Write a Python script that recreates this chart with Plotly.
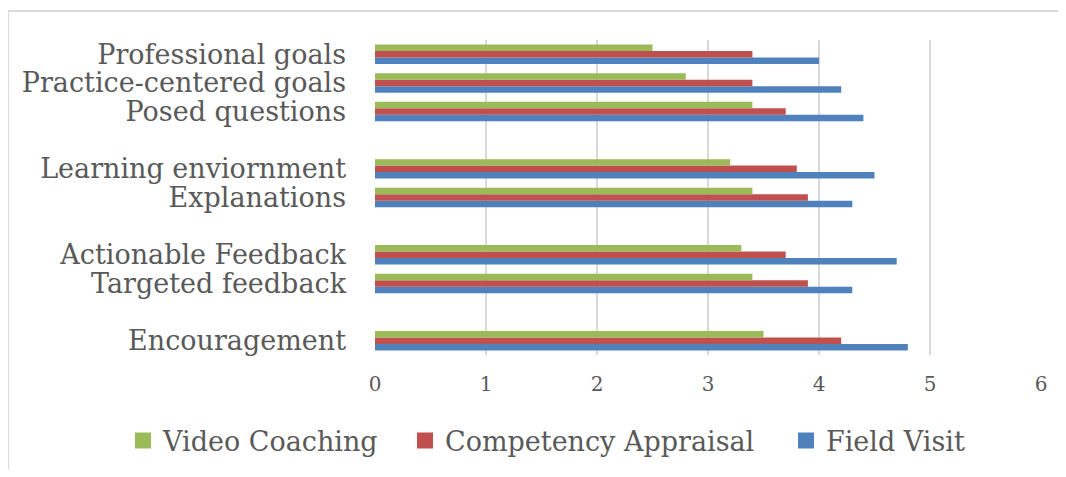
import plotly.graph_objects as go

categories = ["Encouragement", "Targeted feedback", "Actionable Feedback",
              "Explanations", "Learning enviornment",
              "Posed questions", "Practice-centered goals", "Professional goals"]
axis_order = ["Encouragement", " ", "Targeted feedback", "Actionable Feedback", "  ",
              "Explanations", "Learning enviornment", "   ",
              "Posed questions", "Practice-centered goals", "Professional goals"]

video_coaching = [3.5, 3.4, 3.3, 3.4, 3.2, 3.4, 2.8, 2.5]
competency_appraisal = [4.2, 3.9, 3.7, 3.9, 3.8, 3.7, 3.4, 3.4]
field_visit = [4.8, 4.3, 4.7, 4.3, 4.5, 4.4, 4.2, 4.0]

x_ticks = [0, 1, 2, 3, 4, 5, 6]

FONT = "DejaVu Serif"
GRAY = "#595959"
C_BLUE, C_RED, C_GREEN = "#4F81BD", "#C0504D", "#9BBB59"

OFF = 8  # body margin of the html page
W, H = 1066 - 2 * OFF, 477 - 2 * OFF
L = 375 - OFF
T = 40 - OFF
R = W - (1041 - OFF)
B = H - (355 - OFF)
pw, ph = W - L - R, H - T - B


def px(xp):
    return (xp - OFF - L) / pw


def py(yp):
    return (H - B - (yp - OFF)) / ph


series = [("Field Visit", field_visit, C_BLUE, "legend3", 826),
          ("Competency Appraisal", competency_appraisal, C_RED, "legend2", 445),
          ("Video Coaching", video_coaching, C_GREEN, "legend", 163)]

fig = go.Figure()
for name, vals, col, leg, _ in series:
    fig.add_trace(go.Bar(y=categories, x=vals, name=name, orientation="h",
                         marker=dict(color=col, line=dict(width=0)), showlegend=False))
# legend entries with larger square swatches, one legend box per entry
for name, vals, col, leg, _ in series:
    fig.add_trace(go.Scatter(x=[None], y=[None], mode="markers", name=name, legend=leg,
                             marker=dict(symbol="square", size=17, color=col)))


def legend_box(text_x):
    return dict(orientation="h", x=px(text_x - 40), xanchor="left",
                y=py(441), yanchor="middle", bgcolor="rgba(0,0,0,0)",
                font=dict(family=FONT, size=27, color=GRAY), itemwidth=30)


bx, by = px(8), py(11)

fig.update_layout(
    width=W, height=H,
    margin=dict(l=L, r=R, t=T, b=B, autoexpand=False),
    paper_bgcolor="white", plot_bgcolor="white",
    barmode="group", bargap=0.32, bargroupgap=0,
    font=dict(family=FONT, color=GRAY),
    showlegend=True,
    legend=legend_box(series[2][4]),
    legend2=legend_box(series[1][4]),
    legend3=legend_box(series[0][4]),
    xaxis=dict(range=[0, 6], tickmode="array", tickvals=x_ticks,
               ticktext=[str(v) for v in x_ticks],
               showgrid=True, gridcolor="#d9d9d9", gridwidth=1.5, zeroline=False,
               showline=False, ticks="", ticklabelstandoff=15,
               tickfont=dict(family=FONT, size=20, color=GRAY), fixedrange=True),
    yaxis=dict(type="category", categoryorder="array", categoryarray=axis_order,
               tickmode="array", tickvals=axis_order, ticktext=axis_order,
               range=[-0.5, len(axis_order) - 0.5],
               showgrid=False, zeroline=False, showline=False, ticks="",
               ticklabelstandoff=28,
               tickfont=dict(family=FONT, size=27, color=GRAY), fixedrange=True),
    shapes=[
        dict(type="line", xref="paper", yref="paper", x0=bx, x1=bx, y0=-0.6, y1=by,
             line=dict(color="#d9d9d9", width=2)),
        dict(type="line", xref="paper", yref="paper", x0=bx, x1=1.2, y0=by, y1=by,
             line=dict(color="#d9d9d9", width=2)),
    ],
)

fig.write_html("out.html")
